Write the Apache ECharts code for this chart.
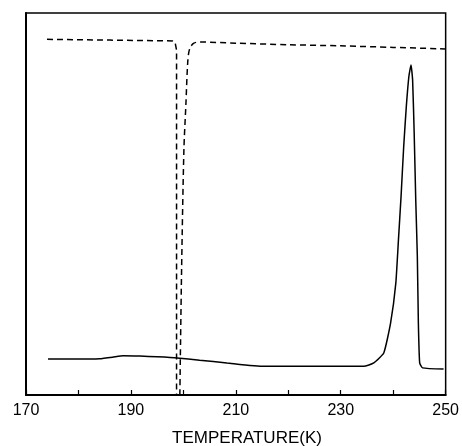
<!DOCTYPE html>
<html>
<head>
<meta charset="utf-8">
<script src="https://cdn.jsdelivr.net/npm/echarts@6/dist/echarts.min.js"></script>
<style>html,body{margin:0;padding:0;background:#fff}#c{width:462px;height:446px}</style>
</head>
<body>
<div id="c"></div>
<script>
// X-axis tick labels
const xTicks = [170, 190, 210, 230, 250];

// Solid curve (temperature K, relative signal 0-100)
const solidT = [174.2, 180.3, 184.0, 186.5, 188.5, 191.7, 195.0, 198.8, 203.1, 208.3, 215.3, 225.0, 234.4, 236.3, 238.2, 239.5, 240.5, 241.0, 241.5, 242.0, 242.5, 243.0, 243.4, 243.7, 244.0, 244.3, 244.6, 244.8, 245.05, 245.6, 249.6];
const solidV = [9.4, 9.4, 9.5, 9.9, 10.3, 10.2, 10.0, 9.7, 9.1, 8.4, 7.5, 7.5, 7.5, 8.4, 11.0, 18.8, 29.3, 40.6, 52.0, 65.0, 75.5, 83.5, 86.4, 82.5, 68.6, 51.0, 36.4, 18.8, 8.4, 7.1, 6.8];

// Dashed curve, cooling branch
const coolT = [174.0, 180.0, 186.0, 192.0, 198.0, 198.4, 198.7, 198.7];
const coolV = [93.1, 93.0, 92.9, 92.8, 92.7, 92.4, 90.3, 0];

// Dashed curve, warming branch
const warmT = [199.33, 199.66, 200.1, 200.48, 200.86, 201.24, 202.0, 203.14, 210.0, 220.0, 230.0, 240.0, 250.0];
const warmV = [0, 32.7, 64.1, 76.0, 87.7, 90.8, 92.1, 92.4, 92.1, 91.7, 91.4, 91.0, 90.6];

const zip = (a, b) => a.map((v, i) => [v, b[i]]);

const chart = echarts.init(document.getElementById('c'));
chart.setOption({
  backgroundColor: '#fff',
  animation: false,
  title: {
    text: 'TEMPERATURE(K)',
    left: 247, top: 430, textAlign: 'center', padding: 0,
    textStyle: { fontFamily: 'Liberation Sans', fontSize: 17, fontWeight: 'normal', color: '#000' }
  },
  grid: { left: 26, right: 16, top: 13, bottom: 51, show: true, borderColor: '#000', borderWidth: 1.5, backgroundColor: 'transparent' },
  xAxis: {
    type: 'value', min: 170, max: 250, interval: 10,
    axisLine: { show: true, lineStyle: { color: '#000', width: 2 } },
    axisTick: { show: true, inside: true, length: 5, lineStyle: { color: '#000', width: 1.2 } },
    splitLine: { show: false },
    axisLabel: {
      margin: 8, color: '#000', fontFamily: 'Liberation Sans', fontSize: 16,
      formatter: v => xTicks.includes(v) ? String(v) : ''
    }
  },
  yAxis: {
    type: 'value', min: 0, max: 100,
    axisLine: { show: true, lineStyle: { color: '#000', width: 2 } },
    axisTick: { show: false }, axisLabel: { show: false }, splitLine: { show: false }
  },
  series: [
    { type: 'line', data: zip(solidT, solidV), showSymbol: false, smooth: 0.15,
      lineStyle: { color: '#000', width: 1.5 } },
    { type: 'line', data: zip(coolT, coolV), showSymbol: false,
      lineStyle: { color: '#000', width: 1.5, type: [6, 4] } },
    { type: 'line', data: zip(warmT, warmV), showSymbol: false, smooth: 0.3,
      lineStyle: { color: '#000', width: 1.5, type: [6, 4] } }
  ]
});
</script>
</body>
</html>
